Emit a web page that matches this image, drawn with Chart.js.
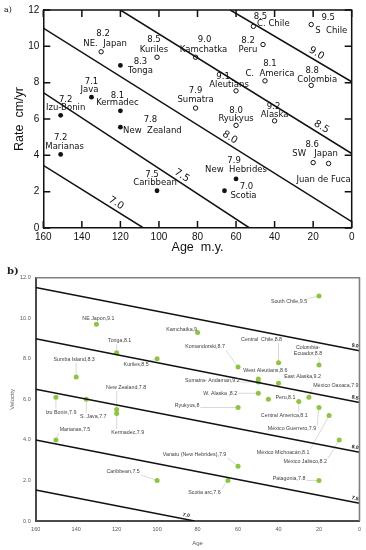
<!DOCTYPE html>
<html>
<head>
<meta charset="utf-8">
<script src="https://cdn.jsdelivr.net/npm/chart.js@4.4.1/dist/chart.umd.min.js"></script>
<style>
  html, body { margin: 0; padding: 0; background: #fff; }
  #wrap { position: relative; width: 366px; height: 550px; }
  canvas { position: absolute; left: 0; }
  #chartA { top: 0; }
  #chartB { top: 258px; }
</style>
</head>
<body>
<div id="wrap">
  <canvas id="chartA" width="366" height="258"></canvas>
  <canvas id="chartB" width="366" height="292"></canvas>
</div>
<script>
// ---------- panel a data ----------
const aOpenNames = ['NE.  Japan', 'Kuriles', 'Kamchatka', 'Peru', 'C. Chile', 'S  Chile', 'C.  America', 'Colombia', 'Aleutians', 'Sumatra', 'Ryukyus', 'Alaska', 'SW   Japan', 'Juan de Fuca'];
const aOpenMags = ['8.2', '8.5', '9.0', '8.2', '8.5', '9.5', '8.1', '8.8', '9.1', '7.9', '8.0', '9.2', '8.6', ''];
const aOpenAges = [130, 101, 81, 46, 51, 21, 45, 21, 60, 81, 60, 40, 20, 12];
const aOpenRates = [9.7, 9.4, 9.4, 10.1, 11.1, 11.2, 8.1, 7.85, 7.55, 6.6, 5.65, 5.9, 3.6, 3.55];

const aFilledNames = ['Tonga', 'Java', 'Kermadec', 'Izu-Bonin', 'New  Zealand', 'Marianas', 'Caribbean', 'New  Hebrides', 'Scotia'];
const aFilledMags = ['8.3', '7.1', '8.1', '7.2', '7.8', '7.2', '7.5', '7.9', '7.0'];
const aFilledAges = [120, 135, 120, 151, 120, 151, 101, 60, 66];
const aFilledRates = [8.95, 7.2, 6.45, 6.2, 5.55, 4.05, 2.05, 2.7, 2.05];

// iso-magnitude lines, each one from [age, rate] to [age, rate]
const aIsoMags = ['7.0', '7.5', '8.0', '8.5', '9.0'];
const aIsoAges = [[160, 108], [160, 53], [160, 0], [120, 0], [63, 0]];
const aIsoRates = [[3.45, 0], [7.45, 0], [11.0, 0.35], [12, 4.1], [12, 8.05]];

const aXTicks = [0, 160, 20];
const aYTicks = [0, 12, 2];

// ---------- panel b data ----------
const bNames = ['NE Japon', 'Tonga', 'Kuriles', 'Sumba Island', 'Izu Bonin', 'S. Java', 'New Zealand', 'Kermadec', 'Marianas', 'Caribbean',
  'South Chile', 'Kamchatka', 'Central  Chile', 'Colombia-\nEcuador', 'Komandorski', 'West Aleutians', 'Sumatra- Andaman', 'East Alaska', 'W. Alaska ', 'Peru',
  'México Oaxaca', 'Central America', 'Ryukyus', 'México Guerrero', 'México Michoacán', 'México Jalisco', 'Vanatu (New Hebrides)', 'Scotia arc', 'Patagonia'];
const bMags = [9.1, 8.1, 8.5, 8.3, 7.9, 7.7, 7.8, 7.9, 7.5, 7.5,
  9.5, 9, 8.8, 8.8, 8.7, 8.6, 9.2, 9.2, 8.2, 8.1,
  7.9, 8.1, 8, 7.9, 8.1, 8.2, 7.9, 7.6, 7.8];
const bAges = [130, 120, 100, 140, 150, 135, 120, 120, 150, 100,
  20, 80, 40, 20, 60, 50, 50, 40, 50, 45,
  25, 30, 60, 20, 15, 10, 60, 65, 20];
const bVelocities = [9.7, 8.3, 8.0, 7.1, 6.1, 6.0, 5.5, 5.3, 4.0, 2.0,
  11.1, 9.3, 7.8, 7.7, 7.6, 7.0, 6.85, 6.8, 6.3, 6.0,
  6.1, 5.9, 5.6, 5.6, 5.2, 4.0, 2.7, 2.0, 2.0];

const bIsoMags = ['9.0', '8.5', '8.0', '7.5', '7.0'];
const bIsoAges = [[160, 0], [160, 0], [160, 0], [160, 0], [160, 81.5]];
const bIsoVelocities = [[11.52, 8.4], [8.99, 5.84], [6.5, 3.39], [4.0, 0.87], [1.53, 0]];

const bXTicks = [0, 160, 20];
const bYTicks = [0, 12, 2];

// ---------- layout of the annotations (pixels) ----------
// [magDx, magDy, nameDx, nameDy] from the point
const aOpenLabelPos = [[2, -18, 4, -8], [-3, -17, -3, -7], [9, -17, 8, -7], [-15, -4, -15, 5], [7, -10, 20, -3], [17, -7, 20, 6],
  [5, -17, 5, -7], [1, -15, 6, -6], [-13, -14, -7, -6], [0, -17, 0, -8], [0, -15, 0, -7], [-1, -14, 0, -6], [-1, -18, 2, -9], [0, 0, -5, 16]];
const aFilledLabelPos = [[20, -4, 20, 5], [0, -15, -2, -7], [-3, -15, -3, -8], [5, -16, 5, -8], [30, -7, 32, 4], [0, -17, 4, -8],
  [-5, -16, -2, -8], [-2, -18, 0, -9], [22, -4, 19, 5]];
const aIsoLabelAge = [124, 90, 65, 17.5, 20];

// label centre offset [dx, dy] from each point of panel b
const bLabelPos = [[2, -6], [3, -12], [-21, 6], [-2, -18], [5, 15], [7, 17], [9.5, -22], [11, 19], [19, -10], [-34, -9],
  [-30, 6], [-16, -3], [-17, -23], [-11, -14], [-33, -20], [7, -9], [-46, -2], [24, -7], [-38, 0], [17, -2],
  [27, -12], [-14.5, 14], [-51, -2], [-27, 21], [-46, 37], [-34, 22], [-43.5, -12], [-23.5, 12], [-30, -2]];
const bIsoLabelAge = [2.5, 2.5, 2.5, 2.5, 86];

function toPoints(xs, ys) {
  return xs.map((v, i) => ({ x: v, y: ys[i] }));
}

function isoDatasets(ages, vals, width) {
  return ages.map((a, i) => ({
    data: [{ x: a[0], y: vals[i][0] }, { x: a[1], y: vals[i][1] }],
    showLine: true,
    borderColor: '#111',
    borderWidth: width,
    pointRadius: 0,
    fill: false
  }));
}

function lineValueAt(ages, vals, age) {
  const t = (age - ages[0]) / (ages[1] - ages[0]);
  return vals[0] + t * (vals[1] - vals[0]);
}

function drawIsoLabels(chart, ages, vals, texts, labelAges, font, offset) {
  const { ctx, scales: { x, y } } = chart;
  texts.forEach((txt, i) => {
    const x1 = x.getPixelForValue(ages[i][0]), y1 = y.getPixelForValue(vals[i][0]);
    const x2 = x.getPixelForValue(ages[i][1]), y2 = y.getPixelForValue(vals[i][1]);
    const ang = Math.atan2(y2 - y1, x2 - x1);
    const a = labelAges[i];
    const px = x.getPixelForValue(a);
    const py = y.getPixelForValue(lineValueAt(ages[i], vals[i], a));
    ctx.save();
    ctx.translate(px + Math.sin(ang) * offset, py - Math.cos(ang) * offset);
    ctx.rotate(ang);
    ctx.font = font;
    ctx.fillStyle = '#111';
    ctx.textAlign = 'center';
    ctx.textBaseline = 'middle';
    ctx.fillText(txt, 0, 0);
    ctx.restore();
  });
}

// ---------- panel a ----------
const panelA = {
  id: 'panelA',
  afterDraw(chart) {
    const { ctx, chartArea: ca, scales: { x, y } } = chart;
    ctx.save();
    ctx.strokeStyle = '#111';
    ctx.lineWidth = 1.5;
    ctx.beginPath();
    ctx.moveTo(ca.left, ca.top);
    ctx.lineTo(ca.right, ca.top);
    ctx.lineTo(ca.right, ca.bottom);
    ctx.stroke();

    // inward tick marks on all four sides
    ctx.beginPath();
    x.ticks.forEach(t => {
      const px = x.getPixelForValue(t.value);
      ctx.moveTo(px, ca.bottom); ctx.lineTo(px, ca.bottom - 7);
      ctx.moveTo(px, ca.top); ctx.lineTo(px, ca.top + 7);
    });
    y.ticks.forEach(t => {
      const py = y.getPixelForValue(t.value);
      ctx.moveTo(ca.left, py); ctx.lineTo(ca.left + 7, py);
      ctx.moveTo(ca.right, py); ctx.lineTo(ca.right - 7, py);
    });
    ctx.stroke();

    ctx.fillStyle = '#111';
    ctx.font = '8px "DejaVu Serif"';
    ctx.textAlign = 'left';
    ctx.textBaseline = 'middle';
    ctx.fillText('a)', 4, 10);

    ctx.font = '8.5px "DejaVu Sans"';
    ctx.textAlign = 'center';
    const labelGroup = (names, mags, ages, rates, pos) => {
      names.forEach((n, i) => {
        const px = x.getPixelForValue(ages[i]);
        const py = y.getPixelForValue(rates[i]);
        const p = pos[i];
        if (mags[i]) ctx.fillText(mags[i], px + p[0], py + p[1]);
        ctx.fillText(n, px + p[2], py + p[3]);
      });
    };
    labelGroup(aOpenNames, aOpenMags, aOpenAges, aOpenRates, aOpenLabelPos);
    labelGroup(aFilledNames, aFilledMags, aFilledAges, aFilledRates, aFilledLabelPos);

    drawIsoLabels(chart, aIsoAges, aIsoRates, aIsoMags, aIsoLabelAge, '10px "DejaVu Sans"', 6.5);
    ctx.restore();
  }
};

new Chart(document.getElementById('chartA'), {
  type: 'scatter',
  data: {
    datasets: [
      ...isoDatasets(aIsoAges, aIsoRates, 1.5),
      {
        data: toPoints(aOpenAges, aOpenRates),
        pointRadius: 2.2,
        pointBackgroundColor: '#fff',
        pointBorderColor: '#111',
        pointBorderWidth: 1
      },
      {
        data: toPoints(aFilledAges, aFilledRates),
        pointRadius: 2.4,
        pointBackgroundColor: '#111',
        pointBorderColor: '#111',
        pointBorderWidth: 0
      }
    ]
  },
  options: {
    responsive: false,
    animation: false,
    layout: { padding: { top: 9, right: 14.3, left: 0, bottom: 0 } },
    plugins: { legend: { display: false }, tooltip: { enabled: false } },
    scales: {
      x: {
        type: 'linear',
        min: aXTicks[0], max: aXTicks[1], reverse: true,
        ticks: { stepSize: aXTicks[2], padding: 3, color: '#111', maxRotation: 0, autoSkip: false,
          font: { family: 'Liberation Sans', size: 10 } },
        grid: { display: false, drawTicks: false },
        border: { color: '#111', width: 1.5 },
        title: { display: true, text: 'Age  m.y.', color: '#111',
          font: { family: 'Liberation Sans', size: 12.5 }, padding: { top: 0, bottom: 2.5 } },
        afterFit(s) { s.height = 30; }
      },
      y: {
        min: aYTicks[0], max: aYTicks[1],
        ticks: { stepSize: aYTicks[2], padding: 4, color: '#111',
          font: { family: 'Liberation Sans', size: 10 } },
        grid: { display: false, drawTicks: false },
        border: { color: '#111', width: 1.5 },
        title: { display: true, text: 'Rate  cm/yr', color: '#111',
          font: { family: 'Liberation Sans', size: 12.5 }, padding: { top: 12, bottom: 0 } },
        afterFit(s) { s.width = 43.3; }
      }
    }
  },
  plugins: [panelA]
});

// ---------- panel b ----------
const bLabelFont = '5.3px "Liberation Sans"';
const bLineHeight = 6;

function bLabelBoxes(chart) {
  const { ctx, scales: { x, y } } = chart;
  ctx.save();
  ctx.font = bLabelFont;
  const boxes = bNames.map((n, i) => {
    const lines = (n + ',' + String(bMags[i])).split('\n');
    const w = Math.max(...lines.map(l => ctx.measureText(l).width));
    const h = lines.length * bLineHeight;
    const px = x.getPixelForValue(bAges[i]);
    const py = y.getPixelForValue(bVelocities[i]);
    const cx = px + bLabelPos[i][0], cy = py + bLabelPos[i][1];
    return { lines, px, py, cx, cy, x0: cx - w / 2, x1: cx + w / 2, y0: cy - h / 2, y1: cy + h / 2 };
  });
  ctx.restore();
  return boxes;
}

const panelB = {
  id: 'panelB',
  beforeDatasetsDraw(chart) {
    const { ctx } = chart;
    ctx.save();
    ctx.strokeStyle = '#c8c8c8';
    ctx.lineWidth = 0.7;
    bLabelBoxes(chart).forEach(b => {
      const qx = Math.min(Math.max(b.px, b.x0 - 1), b.x1 + 1);
      const qy = Math.min(Math.max(b.py, b.y0 - 0.5), b.y1 + 0.5);
      const d = Math.hypot(qx - b.px, qy - b.py);
      if (d > 6) {
        ctx.beginPath();
        ctx.moveTo(b.px, b.py);
        ctx.lineTo(qx, qy);
        ctx.stroke();
      }
    });
    ctx.restore();
  },
  afterDatasetsDraw(chart) {
    const { ctx, chartArea: ca } = chart;
    ctx.save();
    ctx.strokeStyle = '#808080';
    ctx.lineWidth = 1.6;
    ctx.beginPath();
    ctx.moveTo(ca.left, ca.top);
    ctx.lineTo(ca.right, ca.top);
    ctx.lineTo(ca.right, ca.bottom);
    ctx.stroke();

    ctx.fillStyle = '#222';
    ctx.font = 'bold 10px "DejaVu Serif"';
    ctx.textAlign = 'left';
    ctx.textBaseline = 'middle';
    ctx.fillText('b)', 7, 13.5);

    ctx.font = bLabelFont;
    ctx.fillStyle = '#404040';
    ctx.textAlign = 'center';
    bLabelBoxes(chart).forEach(b => {
      b.lines.forEach((l, k) => {
        ctx.fillText(l, b.cx, b.y0 + bLineHeight * (k + 0.5));
      });
    });

    drawIsoLabels(chart, bIsoAges, bIsoVelocities, bIsoMags, bIsoLabelAge, 'bold 5px "Liberation Sans"', 4);
    ctx.restore();
  }
};

new Chart(document.getElementById('chartB'), {
  type: 'scatter',
  data: {
    datasets: [
      ...isoDatasets(bIsoAges, bIsoVelocities, 1.5),
      {
        data: toPoints(bAges, bVelocities),
        pointRadius: 2.5,
        pointBackgroundColor: '#8cc63c',
        pointBorderColor: '#8cc63c',
        pointBorderWidth: 0
      }
    ]
  },
  options: {
    responsive: false,
    animation: false,
    layout: { padding: { top: 19.7, right: 6.5, left: 0, bottom: 0 } },
    plugins: { legend: { display: false }, tooltip: { enabled: false } },
    scales: {
      x: {
        type: 'linear',
        min: bXTicks[0], max: bXTicks[1], reverse: true,
        ticks: { stepSize: bXTicks[2], padding: 5, color: '#595959', maxRotation: 0, autoSkip: false,
          font: { family: 'Liberation Sans', size: 5.5 } },
        grid: { display: false, drawTicks: false },
        border: { color: '#4a4a4a', width: 2 },
        title: { display: true, text: 'Age', color: '#595959',
          font: { family: 'Liberation Sans', size: 6 }, padding: { top: 0, bottom: 3.4 } },
        afterFit(s) { s.height = 29; }
      },
      y: {
        min: bYTicks[0], max: bYTicks[1],
        ticks: { stepSize: bYTicks[2], padding: 5, color: '#595959',
          font: { family: 'Liberation Sans', size: 5.5 },
          callback: v => Number(v).toFixed(1) },
        grid: { display: false, drawTicks: false },
        border: { color: '#4a4a4a', width: 2 },
        title: { display: true, text: 'Velocity', color: '#595959',
          font: { family: 'Liberation Sans', size: 6 }, padding: { top: 8.4, bottom: 0 } },
        afterFit(s) { s.width = 35.7; }
      }
    }
  },
  plugins: [panelB]
});
</script>
</body>
</html>
